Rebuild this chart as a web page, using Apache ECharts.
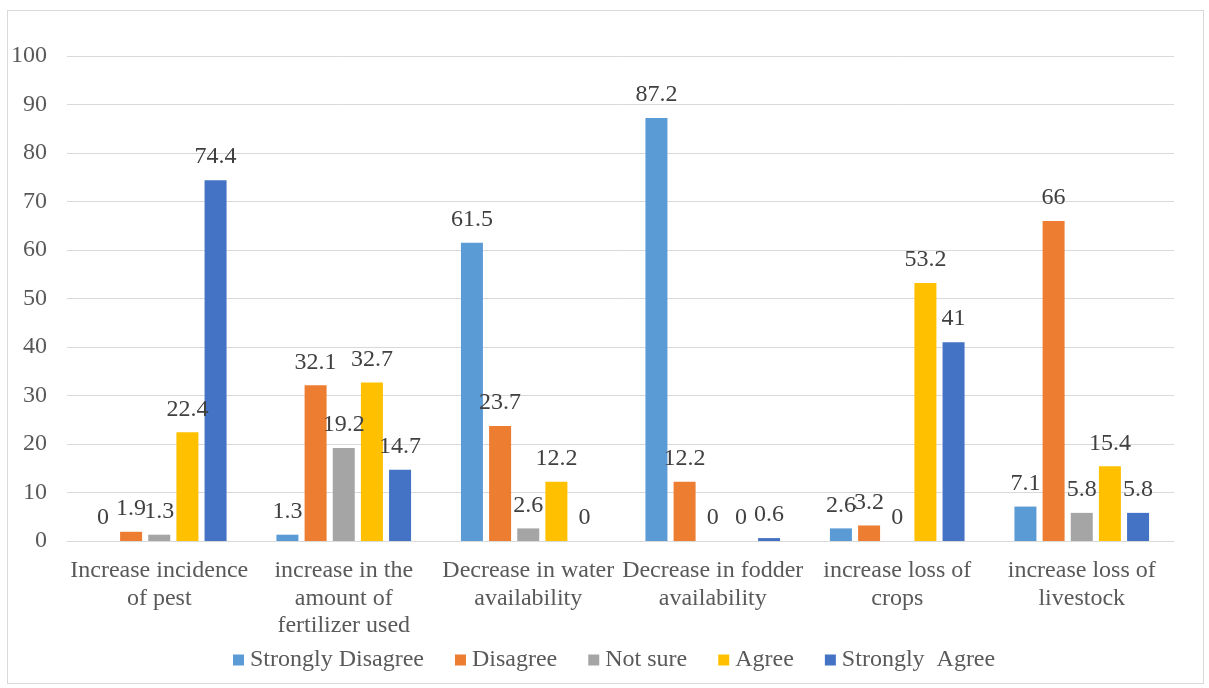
<!DOCTYPE html>
<html>
<head>
<meta charset="utf-8">
<script src="https://cdn.jsdelivr.net/npm/echarts@6/dist/echarts.min.js"></script>
<style>
  html, body { margin: 0; padding: 0; background: #fff; }
  #frame { position: absolute; left: 7px; top: 10px; width: 1197px; height: 674px; border: 1px solid #d9d9d9; box-sizing: border-box; }
  #chart { position: absolute; left: 0; top: 0; width: 1209px; height: 688px; }
</style>
</head>
<body>
<div id="frame"></div>
<div id="chart"></div>
<script>
// Survey responses (%) on perceived effects
const categories = [
  'Increase incidence\nof pest',
  'increase in the\namount of\nfertilizer used',
  'Decrease in water\navailability',
  'Decrease in fodder\navailability',
  'increase loss of\ncrops',
  'increase loss of\nlivestock'
];
const seriesNames = ['Strongly Disagree', 'Disagree', 'Not sure', 'Agree', 'Strongly  Agree'];
const stronglyDisagree = [0, 1.3, 61.5, 87.2, 2.6, 7.1];
const disagree         = [1.9, 32.1, 23.7, 12.2, 3.2, 66];
const notSure          = [1.3, 19.2, 2.6, 0, 0, 5.8];
const agree            = [22.4, 32.7, 12.2, 0, 53.2, 15.4];
const stronglyAgree    = [74.4, 14.7, 0, 0.6, 41, 5.8];
const yTicks = { min: 0, max: 100, step: 10 };

const colors = ['#5B9BD5', '#ED7D31', '#A5A5A5', '#FFC000', '#4472C4'];
const values = [stronglyDisagree, disagree, notSure, agree, stronglyAgree];
const FONT = '"Liberation Serif", "Times New Roman", serif';

const chart = echarts.init(document.getElementById('chart'));
chart.setOption({
  animation: false,
  textStyle: { fontFamily: FONT },
  color: colors,
  grid: { left: 67, right: 35, top: 56, bottom: 147, containLabel: false },
  legend: {
    bottom: 11,
    left: 228,
    itemWidth: 11,
    itemHeight: 11,
    itemGap: 31,
    icon: 'rect',
    textStyle: { fontFamily: FONT, fontSize: 24, color: '#595959', padding: [0, 0, 0, 1] },
    data: seriesNames
  },
  xAxis: {
    type: 'category',
    data: categories,
    axisLine: { lineStyle: { color: '#d9d9d9', width: 1 } },
    axisTick: { show: false },
    axisLabel: { fontFamily: FONT, fontSize: 24, color: '#595959', lineHeight: 27.5, margin: 16, interval: 0 }
  },
  yAxis: {
    type: 'value',
    min: yTicks.min,
    max: yTicks.max,
    interval: yTicks.step,
    axisLine: { show: false },
    axisTick: { show: false },
    splitLine: { lineStyle: { color: '#d9d9d9', width: 1 } },
    axisLabel: { fontFamily: FONT, fontSize: 24, color: '#595959', margin: 20 }
  },
  series: seriesNames.map((name, i) => ({
    name,
    type: 'bar',
    data: values[i],
    barWidth: 22,
    barGap: '28%',
    itemStyle: { color: colors[i] },
    label: {
      show: true,
      position: 'top',
      distance: 11,
      fontFamily: FONT,
      fontSize: 24,
      color: '#404040'
    }
  }))
});
</script>
</body>
</html>
